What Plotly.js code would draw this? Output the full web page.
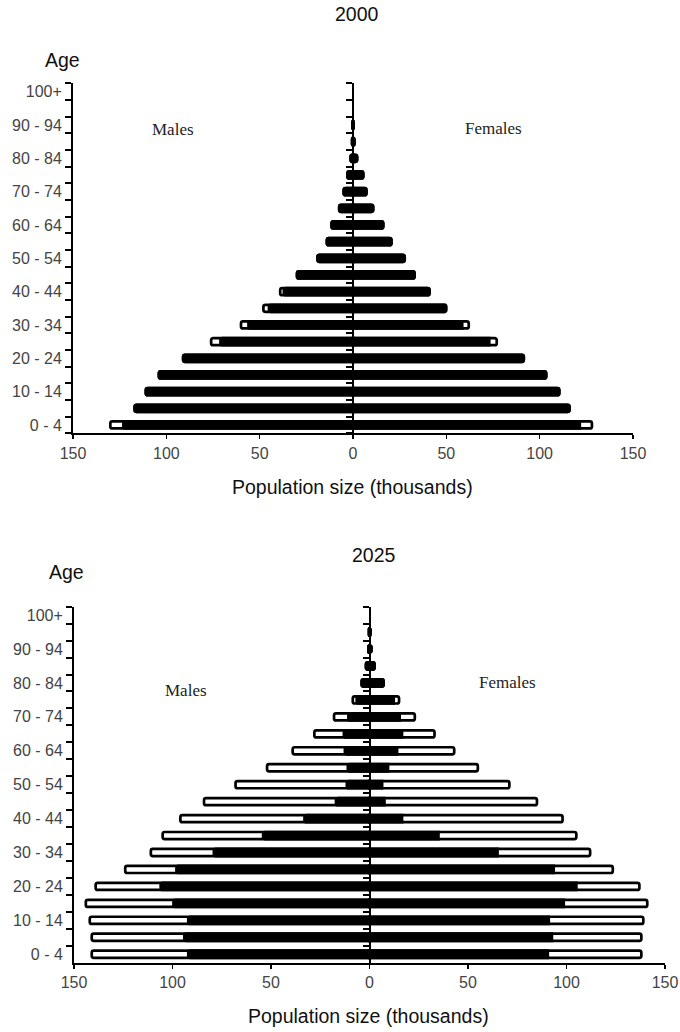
<!DOCTYPE html>
<html>
<head>
<meta charset="utf-8">
<script src="https://cdn.plot.ly/plotly-3.0.1.min.js"></script>
<style>
  html, body { margin: 0; padding: 0; background: #fff; }
  #chart { width: 680px; height: 1032px; }
</style>
</head>
<body>
<div id="chart"></div>
<script>
// ---------- data (thousands) ----------
const ageGroups = ["0 - 4","5 - 9","10 - 14","15 - 19","20 - 24","25 - 29","30 - 34","35 - 39",
  "40 - 44","45 - 49","50 - 54","55 - 59","60 - 64","65 - 69","70 - 74","75 - 79",
  "80 - 84","85 - 89","90 - 94","95 - 99","100+"];
const labelTicks = ["0 - 4","10 - 14","20 - 24","30 - 34","40 - 44","50 - 54","60 - 64",
  "70 - 74","80 - 84","90 - 94","100+"];
const popTickValues = [-150, -100, -50, 0, 50, 100, 150];

const males2000Total   = [130, 117, 111, 104, 91, 76, 60, 48, 39, 30, 19, 14, 11.5, 7.4, 5, 3, 1.3, 0.5, 0.3, 0, 0];
const males2000Inner   = [123, 117, 111, 104, 91, 71, 56, 45, 37, 30, 19, 14, 11.5, 7.4, 5, 3, 1.3, 0.5, 0.3, 0, 0];
const females2000Total = [128, 116, 110.5, 103.5, 91.5, 77, 62, 50, 41, 33, 27.7, 20.6, 16.2, 10.8, 7.2, 5.5, 2.2, 0.8, 0.3, 0, 0];
const females2000Inner = [121.5, 116, 110.5, 103.5, 91.5, 73, 58.5, 49, 41, 33, 27.7, 20.6, 16.2, 10.8, 7.2, 5.5, 2.2, 0.8, 0.3, 0, 0];

const males2025Total   = [141, 141, 142, 144, 139, 124, 111, 105, 96, 84, 68, 52, 39, 28, 18, 8.5, 4, 1.8, 0.6, 0.3, 0];
const males2025Inner   = [92, 94, 92, 99.5, 106, 98, 79, 54, 33, 17, 11.5, 11, 12.5, 13, 10.7, 6.5, 4, 1.8, 0.6, 0.3, 0];
const females2025Total = [138, 138, 139, 141, 137, 123.5, 112, 105, 98, 85, 71, 55, 43, 33, 23, 15, 7.2, 2.6, 1, 0.5, 0];
const females2025Inner = [90.5, 92.6, 91, 98.6, 105, 93.5, 65, 35, 16.5, 7.6, 6.4, 9.4, 14, 16.5, 15.3, 12.3, 7.2, 2.6, 1, 0.5, 0];

// ---------- helpers ----------
const W = 680, H = 1032;
const px = v => v / W;           // pixel x -> paper
const py = v => 1 - v / H;       // pixel y -> paper
const yRange = [-0.5, ageGroups.length - 0.5];

const sans = 'Liberation Sans, Arial, Helvetica, sans-serif';
const serif = 'Liberation Serif, Times New Roman, serif';
const tickFont = { family: sans, size: 16, color: '#444' };

function bars(values, sign, fill, xa, ya) {
  return {
    type: 'bar', orientation: 'h',
    y: ageGroups, x: values.map(v => (v === 0 ? null : sign * v)),
    width: 0.42,
    marker: { color: fill, line: { color: '#000', width: 2.7 }, cornerradius: 2 },
    xaxis: xa, yaxis: ya, hoverinfo: 'skip', showlegend: false
  };
}

function popAxis(domain, anchor) {
  return {
    domain, anchor, range: [-150, 150], fixedrange: true,
    tickmode: 'array', tickvals: popTickValues,
    ticktext: popTickValues.map(v => String(Math.abs(v))),
    ticks: 'outside', ticklen: 4, tickwidth: 1.5, tickcolor: '#000',
    tickfont: tickFont, showline: true, linecolor: '#000', linewidth: 2,
    showgrid: false, zeroline: false
  };
}
const catBase = () => ({
  type: 'category', categoryorder: 'array', categoryarray: ageGroups,
  range: yRange, fixedrange: true, showgrid: false, zeroline: false, side: 'left'
});
// axis with tick marks on every age-group boundary (no labels)
function boundaryAxis(extra) {
  return Object.assign(catBase(), {
    tickmode: 'array', tickvals: ageGroups, ticktext: ageGroups,
    tickson: 'boundaries', showticklabels: false,
    ticks: 'outside', ticklen: 6, tickwidth: 2, tickcolor: '#000',
    showline: true, linecolor: '#000', linewidth: 2
  }, extra);
}
// axis carrying the age labels (every second group)
function labelAxis(extra) {
  return Object.assign(catBase(), {
    tickmode: 'array', tickvals: labelTicks, ticktext: labelTicks,
    ticks: 'outside', ticklen: 7, tickcolor: 'rgba(0,0,0,0)', tickfont: tickFont,
    showline: false
  }, extra);
}

// ---------- geometry ----------
const topX = [px(73), px(633)];
const topY = [py(433.3), py(83.3)];
const botX = [px(74), px(665)];
const botY = [py(962.7), py(606.7)];

const traces = [
  bars(males2000Total, -1, '#fff', 'x', 'y'),
  bars(males2000Inner, -1, '#000', 'x', 'y3'),
  bars(females2000Total, 1, '#fff', 'x', 'y2'),
  bars(females2000Inner, 1, '#000', 'x', 'y2'),
  bars(males2025Total, -1, '#fff', 'x2', 'y4'),
  bars(males2025Inner, -1, '#000', 'x2', 'y6'),
  bars(females2025Total, 1, '#fff', 'x2', 'y5'),
  bars(females2025Inner, 1, '#000', 'x2', 'y5')
];

function ann(text, x, y, font) {
  return { text, x: px(x), y: py(y), xref: 'paper', yref: 'paper',
           xanchor: 'center', yanchor: 'middle', showarrow: false, font };
}
const titleFont = { family: sans, size: 19.5, color: '#111' };
const sideFont = { family: serif, size: 17, color: '#222' };

const layout = {
  width: W, height: H,
  margin: { l: 0, r: 0, t: 0, b: 0 },
  paper_bgcolor: '#fff', plot_bgcolor: 'rgba(0,0,0,0)',
  barmode: 'overlay', showlegend: false,
  xaxis: popAxis(topX, 'y'),
  yaxis: boundaryAxis({ domain: topY, anchor: 'x' }),
  yaxis2: boundaryAxis({ overlaying: 'y', anchor: 'free', position: (topX[0] + topX[1]) / 2 }),
  yaxis3: labelAxis({ overlaying: 'y', anchor: 'x' }),
  xaxis2: popAxis(botX, 'y4'),
  yaxis4: boundaryAxis({ domain: botY, anchor: 'x2' }),
  yaxis5: boundaryAxis({ overlaying: 'y4', anchor: 'free', position: (botX[0] + botX[1]) / 2 }),
  yaxis6: labelAxis({ overlaying: 'y4', anchor: 'x2' }),
  annotations: [
    ann('2000', 356.5, 13.7, titleFont),
    ann('2025', 374, 554.5, titleFont),
    ann('Age', 62.5, 60, titleFont),
    ann('Age', 66, 572, titleFont),
    ann('Males', 172.8, 129, sideFont),
    ann('Females', 493.2, 128.3, sideFont),
    ann('Males', 185.8, 690.8, sideFont),
    ann('Females', 507.2, 682.5, sideFont),
    ann('Population size (thousands)', 352.5, 487, titleFont),
    ann('Population size (thousands)', 368.3, 1016, titleFont)
  ]
};

Plotly.newPlot('chart', traces, layout, { staticPlot: true, displayModeBar: false });
</script>
</body>
</html>
